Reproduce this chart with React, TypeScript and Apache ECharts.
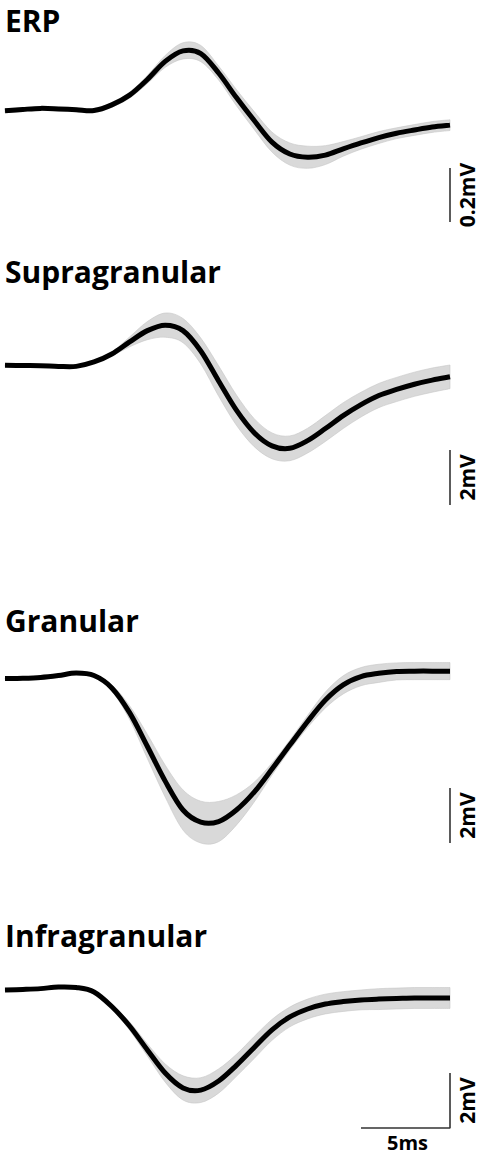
import React, { useEffect, useRef } from "react";
import * as echarts from "echarts";

// ---------- DATA ----------
const timeMs = [0, 1, 2, 3, 4, 5, 6, 7, 8, 9, 10, 11, 12, 13, 14, 15, 16, 17, 18, 19, 20, 21, 22, 23, 24, 25];

const panelTitles = ["ERP", "Supragranular", "Granular", "Infragranular"];

// ERP (mV)
const erpMean = [-0.003, 0.002, 0.006, 0.004, 0.001, -0.002, 0.019, 0.055, 0.113, 0.18, 0.219, 0.209, 0.137, 0.046, -0.039, -0.119, -0.163, -0.175, -0.167, -0.144, -0.122, -0.102, -0.086, -0.074, -0.063, -0.056];
const erpSpread = [0.007, 0.007, 0.007, 0.007, 0.007, 0.007, 0.009, 0.011, 0.015, 0.022, 0.03, 0.03, 0.026, 0.03, 0.033, 0.037, 0.041, 0.041, 0.035, 0.027, 0.023, 0.022, 0.02, 0.02, 0.02, 0.02];

// Supragranular (mV)
const supraMean = [-0.01, -0.02, -0.025, -0.05, -0.05, 0.11, 0.4, 0.84, 1.25, 1.45, 1.25, 0.51, -0.58, -1.64, -2.46, -2.94, -3.03, -2.75, -2.31, -1.84, -1.44, -1.11, -0.89, -0.7, -0.55, -0.43];
const supraSpread = [0.02, 0.02, 0.02, 0.02, 0.02, 0.04, 0.07, 0.18, 0.33, 0.44, 0.44, 0.47, 0.55, 0.55, 0.51, 0.47, 0.45, 0.45, 0.47, 0.47, 0.45, 0.44, 0.44, 0.44, 0.44, 0.43];

// Granular (mV)
const granMean = [-0.02, -0.01, 0.02, 0.09, 0.18, 0.09, -0.36, -1.26, -2.49, -3.75, -4.8, -5.24, -5.22, -4.8, -4.15, -3.31, -2.44, -1.58, -0.8, -0.25, 0.05, 0.17, 0.24, 0.25, 0.25, 0.25];
const granSpread = [0.02, 0.02, 0.02, 0.02, 0.02, 0.04, 0.11, 0.25, 0.44, 0.58, 0.73, 0.76, 0.73, 0.55, 0.36, 0.22, 0.18, 0.22, 0.29, 0.33, 0.33, 0.33, 0.31, 0.31, 0.31, 0.31];

// Infragranular (mV)
const infraMean = [0, 0.02, 0.05, 0.11, 0.09, -0.07, -0.6, -1.31, -2.18, -3.02, -3.56, -3.64, -3.31, -2.74, -2.09, -1.45, -0.98, -0.69, -0.51, -0.42, -0.36, -0.33, -0.31, -0.29, -0.29, -0.29];
const infraSpread = [0.02, 0.02, 0.02, 0.02, 0.02, 0.04, 0.07, 0.15, 0.22, 0.33, 0.44, 0.45, 0.44, 0.4, 0.4, 0.38, 0.36, 0.36, 0.36, 0.36, 0.36, 0.38, 0.38, 0.38, 0.38, 0.38];

// Scale bars
const scaleLabels = ["0.2mV", "2mV", "2mV", "2mV"];
const scaleBarLow = [-0.415, -5.09, -6.0, -5.02];
const scaleBarHigh = [-0.215, -3.09, -4.0, -3.02];
const timeBarStart = 20;
const timeBarEnd = 25;
const timeBarLabel = "5ms";

// ---------- LAYOUT ----------
const W = 479;
const H = 1156;
const gridLeft = 5;
const gridWidth = 445;
const gridTops = [29, 296.25, 650.5, 962.5];
const gridHeights = [202.5, 220, 206.25, 178.75];
const yMins = [-0.45, -5.5, -6.5, -5.5];
const yMaxs = [0.3, 2.5, 1, 1];
const titleYs = [20.5, 271, 620, 935];

const means = [erpMean, supraMean, granMean, infraMean];
const spreads = [erpSpread, supraSpread, granSpread, infraSpread];

const FONT = "'Open Sans', Lato, sans-serif";

// Catmull-Rom spline through pixel points, as SVG path commands
function splinePath(pts: number[][], start: "M" | "L"): string {
  let d = `${start}${pts[0][0].toFixed(2)},${pts[0][1].toFixed(2)}`;
  for (let k = 0; k < pts.length - 1; k++) {
    const p0 = pts[k - 1] || pts[k];
    const p1 = pts[k];
    const p2 = pts[k + 1];
    const p3 = pts[k + 2] || pts[k + 1];
    const c1x = p1[0] + (p2[0] - p0[0]) / 6;
    const c1y = p1[1] + (p2[1] - p0[1]) / 6;
    const c2x = p2[0] - (p3[0] - p1[0]) / 6;
    const c2y = p2[1] - (p3[1] - p1[1]) / 6;
    d += ` C${c1x.toFixed(2)},${c1y.toFixed(2)} ${c2x.toFixed(2)},${c2y.toFixed(2)} ${p2[0].toFixed(2)},${p2[1].toFixed(2)}`;
  }
  return d;
}

export default function App() {
  const ref = useRef<HTMLDivElement>(null);

  useEffect(() => {
    document.body.style.margin = "0";
    document.body.style.overflow = "hidden";
    if (!ref.current) return;
    const chart = echarts.init(ref.current, undefined, { renderer: "svg" });

    const grid: any[] = [];
    const xAxis: any[] = [];
    const yAxis: any[] = [];
    const series: any[] = [];

    for (let i = 0; i < 4; i++) {
      grid.push({ left: gridLeft, width: gridWidth, top: gridTops[i], height: gridHeights[i] });
      xAxis.push({ type: "value", gridIndex: i, min: 0, max: 25, show: false });
      yAxis.push({ type: "value", gridIndex: i, min: yMins[i], max: yMaxs[i], show: false });
      const mean = means[i];
      const sp = spreads[i];
      const rows = timeMs.map((t, k) => [t, mean[k], mean[k] - sp[k], mean[k] + sp[k]]);
      series.push({
        type: "custom",
        coordinateSystem: "cartesian2d",
        xAxisIndex: i,
        yAxisIndex: i,
        data: rows,
        encode: { x: 0, y: [1, 2, 3] },
        silent: true,
        clip: false,
        renderItem: (params: any, api: any) => {
          if (params.dataIndex !== 0) return null;
          const meanPts = rows.map((r) => api.coord([r[0], r[1]]));
          const lowPts = rows.map((r) => api.coord([r[0], r[2]]));
          const upPts = rows.map((r) => api.coord([r[0], r[3]]));
          const bandD =
            splinePath(upPts, "M") + " " + splinePath(lowPts.slice().reverse(), "L") + " Z";
          const meanD = splinePath(meanPts, "M");
          return {
            type: "group",
            children: [
              {
                type: "path",
                shape: { pathData: bandD },
                style: { fill: "#d9d9d9", stroke: "#c6c6c6", lineWidth: 0.6 },
              },
              {
                type: "path",
                shape: { pathData: meanD },
                style: { fill: "none", stroke: "#000", lineWidth: 5, lineCap: "butt", lineJoin: "round" },
              },
            ],
          };
        },
      });
      const bar =
        i === 3
          ? [
              [timeBarStart, scaleBarLow[i]],
              [timeBarEnd, scaleBarLow[i]],
              [timeBarEnd, scaleBarHigh[i]],
            ]
          : [
              [timeBarEnd, scaleBarLow[i]],
              [timeBarEnd, scaleBarHigh[i]],
            ];
      series.push({
        type: "line",
        xAxisIndex: i,
        yAxisIndex: i,
        data: bar,
        symbol: "none",
        silent: true,
        lineStyle: { color: "#333", width: 1.6 },
      });
    }

    chart.setOption({
      animation: false,
      backgroundColor: "#fff",
      grid,
      xAxis,
      yAxis,
      series,
    });

    const graphic: any[] = [];
    for (let i = 0; i < 4; i++) {
      graphic.push({
        type: "text",
        x: 5,
        y: titleYs[i],
        style: {
          text: panelTitles[i],
          fill: "#000",
          font: `bold 30px ${FONT}`,
          verticalAlign: "middle",
          align: "left",
        },
      });
      const mid = (scaleBarLow[i] + scaleBarHigh[i]) / 2;
      const p = chart.convertToPixel({ gridIndex: i }, [timeBarEnd, mid]) as number[];
      graphic.push({
        type: "text",
        x: p[0] + 16.5,
        y: p[1],
        rotation: Math.PI / 2,
        style: {
          text: scaleLabels[i],
          fill: "#000",
          font: `bold 21px ${FONT}`,
          verticalAlign: "middle",
          align: "center",
        },
      });
    }
    const tp = chart.convertToPixel({ gridIndex: 3 }, [(timeBarStart + timeBarEnd) / 2, scaleBarLow[3]]) as number[];
    graphic.push({
      type: "text",
      x: tp[0] + 2,
      y: tp[1] + 14.5,
      style: {
        text: timeBarLabel,
        fill: "#000",
        font: `bold 20px ${FONT}`,
        verticalAlign: "middle",
        align: "center",
      },
    });
    chart.setOption({ graphic });

    return () => chart.dispose();
  }, []);

  return <div ref={ref} style={{ width: W, height: H }} />;
}
